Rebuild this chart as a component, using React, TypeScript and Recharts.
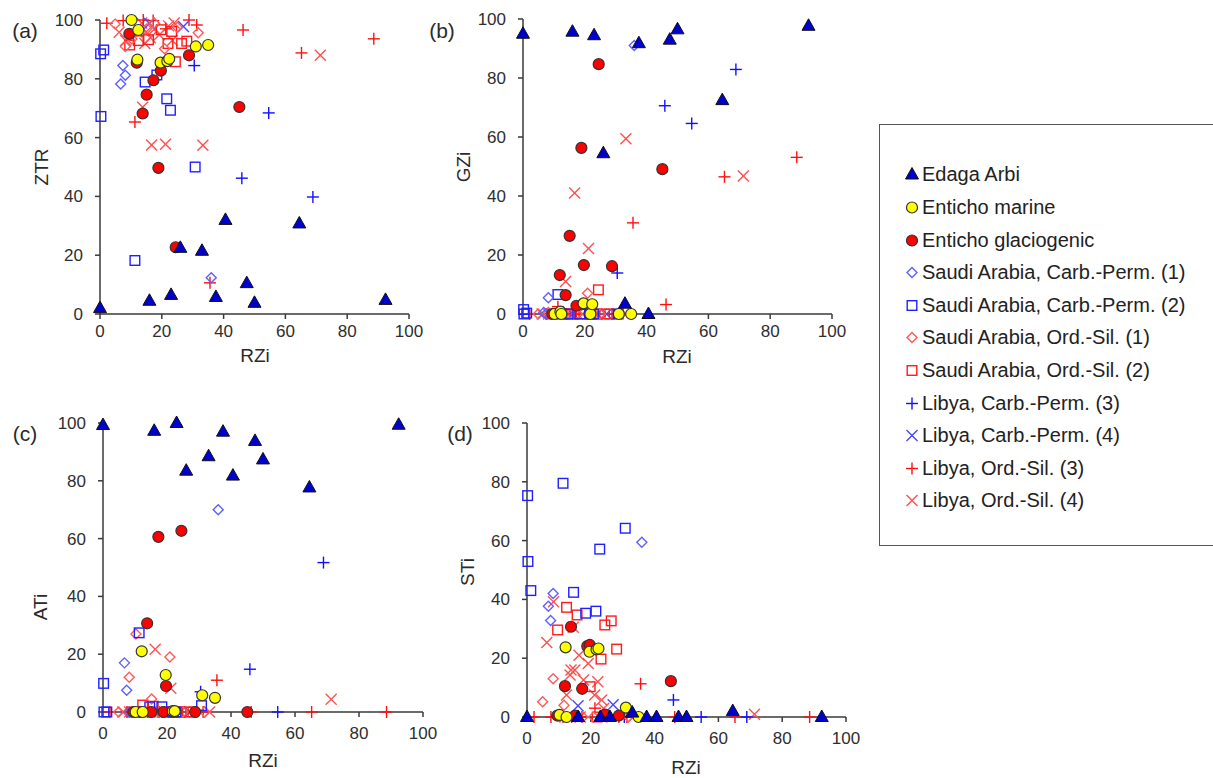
import React from 'react'
import { ScatterChart, Scatter, XAxis, YAxis } from 'recharts'

const axisTicks = [0, 20, 40, 60, 80, 100]

// Edaga Arbi
const edagaRZi = [0, 16, 23, 26, 33, 37.5, 40.6, 47.5, 50, 64.5, 92.4]
const edagaZTR = [2, 4.5, 6.5, 22.5, 21.5, 5.8, 32, 10.5, 3.8, 30.8, 4.8]
const edagaGZi = [95, 95.7, 94.5, 54.5, 3.5, 91.8, 0, 93, 96.5, 72.5, 97.7]
const edagaATi = [99.3, 97.3, 100, 83.5, 88.5, 97, 81.8, 93.8, 87.4, 77.7, 99.4]
const edagaSTi = [0, 0, 0, 0, 1.5, 0, 0, 0, 0, 2, 0]

// Enticho marine
const marineRZi = [10.2, 12.1, 12.4, 19.6, 21.8, 22.4, 31, 35]
const marineZTR = [100, 86.5, 96.6, 85.5, 86, 86.8, 91, 91.5]
const marineGZi = [0, 0.8, 0, 3.6, 0, 3.3, 0, 0]
const marineATi = [0, 21, 0, 12.8, 0.3, 0.3, 5.8, 4.9]
const marineSTi = [0.7, 23.7, 0, 22.2, 23, 23.3, 3.2, 0]

// Enticho glaciogenic
const glacRZi = [9.5, 11.9, 13.8, 15.1, 17.3, 18.9, 19.7, 24.5, 28.8, 45.1]
const glacZTR = [95.3, 85.5, 68.2, 74.6, 79.5, 49.7, 82.8, 22.7, 88, 70.4]
const glacGZi = [0, 13.2, 6.4, 26.5, 2.8, 56.3, 16.6, 84.7, 16.2, 49.1]
const glacATi = [0, 0, 30.7, 0, 60.6, 0, 9, 62.7, 0, 0]
const glacSTi = [0.5, 10.5, 30.7, 0.5, 9.6, 24.1, 24.5, 0.8, 0.5, 12.2]

// Saudi Arabia, Carb.-Perm. (1)
const saCp1RZi = [6.7, 7.4, 8.2, 36]
const saCp1ZTR = [78.2, 84.5, 81.2, 12.3]
const saCp1GZi = [0.5, 0, 5.5, 91]
const saCp1ATi = [17, 7.5, 0, 70]
const saCp1STi = [37.7, 32.8, 42, 59.4]

// Saudi Arabia, Carb.-Perm. (2)
const saCp2RZi = [0.2, 0.3, 1.2, 11.3, 14.6, 18.4, 21.6, 22.8, 30.8]
const saCp2ZTR = [88.5, 67.2, 89.8, 18.2, 78.9, 81.3, 73.2, 69.3, 50]
const saCp2GZi = [1.5, 0, 0.3, 6.6, 0, 0, 0, 0, 0]
const saCp2ATi = [9.9, 0, 0, 27.4, 1.8, 1.8, 0, 0, 2.2]
const saCp2STi = [75.3, 52.9, 43, 79.5, 42.4, 35.3, 36, 57.1, 64.2]

// Saudi Arabia, Ord.-Sil. (1)
const saOs1RZi = [4.9, 8.2, 10.3, 11.6, 15.2, 17.5, 20.9, 25, 31.8]
const saOs1ZTR = [98.6, 91, 93.5, 96, 97, 99, 90.2, 97.5, 95.7]
const saOs1GZi = [0, 0.5, 0, 0, 0, 0, 7, 0, 0]
const saOs1ATi = [0, 12, 27, 0, 4.5, 0, 19, 0, 0]
const saOs1STi = [5.2, 13, 0, 4, 0, 0, 0, 0, 0]

// Saudi Arabia, Ord.-Sil. (2)
const saOs2RZi = [9.6, 12.4, 15.7, 19.8, 22, 23.2, 24.4, 26.4, 28.1]
const saOs2ZTR = [91.5, 93, 93.3, 96.7, 92, 96.1, 85.8, 92, 92.8]
const saOs2GZi = [0, 0, 0, 0, 0, 0, 8.2, 0, 0]
const saOs2ATi = [0, 2.4, 2, 0, 0, 0, 0, 0, 0]
const saOs2STi = [29.6, 37.3, 34.7, 10.3, 0, 19.7, 31.3, 32.7, 23.1]

// Libya, Carb.-Perm. (3)
const lyCp3RZi = [30.5, 45.9, 54.6, 68.9]
const lyCp3ZTR = [84.5, 46.2, 68.4, 39.8]
const lyCp3GZi = [13.9, 70.6, 64.6, 82.9]
const lyCp3ATi = [7, 14.8, 0, 51.7]
const lyCp3STi = [0, 5.8, 0, 0]

// Libya, Carb.-Perm. (4)
const lyCp4RZi = [16, 27]
const lyCp4ZTR = [98.8, 97.8]
const lyCp4GZi = [0, 0]
const lyCp4ATi = [0, 0]
const lyCp4STi = [3.8, 4.2]

// Libya, Ord.-Sil. (3)
const lyOs3RZi = [2.2, 7.5, 11.3, 14, 17.2, 21.3, 28.8, 31.3, 35.6, 46.3, 65.2, 88.6]
const lyOs3ZTR = [98.9, 99.8, 65.3, 100, 99.8, 97, 100, 98.3, 10.6, 96.6, 88.8, 93.6]
const lyOs3GZi = [0, 0, 2.5, 0, 0, 0, 0, 0, 30.9, 3.2, 46.5, 53.1]
const lyOs3ATi = [0, 0, 0, 0, 0, 0, 0, 0, 11, 0, 0, 0]
const lyOs3STi = [0, 0, 0, 0, 0, 3, 0, 0, 11.3, 0, 0, 0]

// Libya, Ord.-Sil. (4)
const lyOs4RZi = [6.2, 8.3, 12.4, 13.5, 13.8, 14.5, 15, 16.3, 16.7, 17.7, 19.2, 21.2, 22.2, 23.4, 24, 33.3, 71.3]
const lyOs4ZTR = [95.8, 93, 97, 99, 70.3, 92, 96, 94, 57.5, 97, 95, 57.7, 98, 93, 99, 57.4, 88]
const lyOs4GZi = [0, 0, 0, 0, 11, 0, 0, 0, 41, 0, 0, 22.2, 0, 0, 0, 59.4, 46.8]
const lyOs4ATi = [0, 0, 0, 0, 0, 0, 0, 21.7, 0, 0, 0, 8.2, 0, 0, 0, 0, 4.4]
const lyOs4STi = [25.3, 39.2, 7.5, 14.3, 16, 30.5, 16, 21, 0, 12.6, 18.2, 7.5, 12, 5.8, 2.9, 0.1, 0.9]

type Kind = 'triangle' | 'circle' | 'diamond' | 'square' | 'plus' | 'cross'
type YKey = 'ztr' | 'gzi' | 'ati' | 'sti'

interface SeriesDef {
  name: string
  kind: Kind
  fill: string
  stroke: string
  rzi: number[]
  ztr: number[]
  gzi: number[]
  ati: number[]
  sti: number[]
}

const series: SeriesDef[] = [
  { name: 'Edaga Arbi', kind: 'triangle', fill: '#0000cc', stroke: '#111', rzi: edagaRZi, ztr: edagaZTR, gzi: edagaGZi, ati: edagaATi, sti: edagaSTi },
  { name: 'Enticho marine', kind: 'circle', fill: '#ffff00', stroke: '#333', rzi: marineRZi, ztr: marineZTR, gzi: marineGZi, ati: marineATi, sti: marineSTi },
  { name: 'Enticho glaciogenic', kind: 'circle', fill: '#ff0000', stroke: '#333', rzi: glacRZi, ztr: glacZTR, gzi: glacGZi, ati: glacATi, sti: glacSTi },
  { name: 'Saudi Arabia, Carb.-Perm. (1)', kind: 'diamond', fill: 'none', stroke: '#6060ff', rzi: saCp1RZi, ztr: saCp1ZTR, gzi: saCp1GZi, ati: saCp1ATi, sti: saCp1STi },
  { name: 'Saudi Arabia, Carb.-Perm. (2)', kind: 'square', fill: 'none', stroke: '#2020ff', rzi: saCp2RZi, ztr: saCp2ZTR, gzi: saCp2GZi, ati: saCp2ATi, sti: saCp2STi },
  { name: 'Saudi Arabia, Ord.-Sil. (1)', kind: 'diamond', fill: 'none', stroke: '#ff5a5a', rzi: saOs1RZi, ztr: saOs1ZTR, gzi: saOs1GZi, ati: saOs1ATi, sti: saOs1STi },
  { name: 'Saudi Arabia, Ord.-Sil. (2)', kind: 'square', fill: 'none', stroke: '#ff1a1a', rzi: saOs2RZi, ztr: saOs2ZTR, gzi: saOs2GZi, ati: saOs2ATi, sti: saOs2STi },
  { name: 'Libya, Carb.-Perm. (3)', kind: 'plus', fill: 'none', stroke: '#1010ff', rzi: lyCp3RZi, ztr: lyCp3ZTR, gzi: lyCp3GZi, ati: lyCp3ATi, sti: lyCp3STi },
  { name: 'Libya, Carb.-Perm. (4)', kind: 'cross', fill: 'none', stroke: '#4848ff', rzi: lyCp4RZi, ztr: lyCp4ZTR, gzi: lyCp4GZi, ati: lyCp4ATi, sti: lyCp4STi },
  { name: 'Libya, Ord.-Sil. (3)', kind: 'plus', fill: 'none', stroke: '#ff1010', rzi: lyOs3RZi, ztr: lyOs3ZTR, gzi: lyOs3GZi, ati: lyOs3ATi, sti: lyOs3STi },
  { name: 'Libya, Ord.-Sil. (4)', kind: 'cross', fill: 'none', stroke: '#ff5050', rzi: lyOs4RZi, ztr: lyOs4ZTR, gzi: lyOs4GZi, ati: lyOs4ATi, sti: lyOs4STi },
]

// later entries in the legend sit underneath, Edaga Arbi on top
const drawOrder = [...series].reverse()

const FONT = '"Liberation Sans", Arial, sans-serif'
const AXIS = '#3a3a3a'

function Marker({ kind, cx, cy, fill, stroke }: { kind: Kind; cx: number; cy: number; fill: string; stroke: string }) {
  if (cx == null || cy == null) return null
  switch (kind) {
    case 'triangle':
      return <polygon points={`${cx},${cy - 7} ${cx + 6.5},${cy + 4.5} ${cx - 6.5},${cy + 4.5}`} fill={fill} stroke={stroke} strokeWidth={1} />
    case 'circle':
      return <circle cx={cx} cy={cy} r={5.5} fill={fill} stroke={stroke} strokeWidth={1.2} />
    case 'diamond':
      return <polygon points={`${cx},${cy - 5} ${cx + 5},${cy} ${cx},${cy + 5} ${cx - 5},${cy}`} fill={fill} stroke={stroke} strokeWidth={1.4} />
    case 'square':
      return <rect x={cx - 4.8} y={cy - 4.8} width={9.6} height={9.6} fill={fill} stroke={stroke} strokeWidth={1.4} />
    case 'plus':
      return (
        <g stroke={stroke} strokeWidth={1.4}>
          <line x1={cx - 6} y1={cy} x2={cx + 6} y2={cy} />
          <line x1={cx} y1={cy - 6} x2={cx} y2={cy + 6} />
        </g>
      )
    case 'cross':
      return (
        <g stroke={stroke} strokeWidth={1.4}>
          <line x1={cx - 5.5} y1={cy - 5.5} x2={cx + 5.5} y2={cy + 5.5} />
          <line x1={cx - 5.5} y1={cy + 5.5} x2={cx + 5.5} y2={cy - 5.5} />
        </g>
      )
  }
  return null
}

function pointsFor(s: SeriesDef, key: YKey) {
  return s.rzi.map((x, i) => ({ x, y: s[key][i] }))
}

function Text({ x, y, size, rotate, children }: { x: number; y: number; size: number; rotate?: boolean; children: React.ReactNode }) {
  return (
    <div
      style={{
        position: 'absolute', left: x, top: y, fontSize: size, color: '#2a2a2a', whiteSpace: 'nowrap', lineHeight: 1,
        transform: `translate(-50%, -50%)${rotate ? ' rotate(-90deg)' : ''}`,
      }}
    >
      {children}
    </div>
  )
}

interface PanelProps {
  left: number
  top: number
  w: number
  h: number
  yKey: YKey
  xGap: number
}

function Panel({ left, top, w, h, yKey, xGap }: PanelProps) {
  const tickStyle = { fontSize: 17, fill: '#2e2e2e', fontFamily: FONT }
  return (
    <div style={{ position: 'absolute', left: left - 100, top: top - 20 }}>
      <ScatterChart width={100 + w + 20} height={20 + h + 40} margin={{ top: 20, right: 20, bottom: 0, left: 0 }}>
        <XAxis
          type="number" dataKey="x" domain={[0, 100]} ticks={axisTicks} interval={0} height={40}
          tick={tickStyle} tickSize={5} tickMargin={xGap}
          axisLine={{ stroke: AXIS, strokeWidth: 1.5 }} tickLine={{ stroke: AXIS, strokeWidth: 1.5 }}
        />
        <YAxis
          type="number" dataKey="y" domain={[0, 100]} ticks={axisTicks} interval={0} width={100}
          tick={tickStyle} tickSize={5} tickMargin={12}
          axisLine={{ stroke: AXIS, strokeWidth: 1.5 }} tickLine={{ stroke: AXIS, strokeWidth: 1.5 }}
        />
        {drawOrder.map((s) => (
          <Scatter
            key={s.name}
            name={s.name}
            data={pointsFor(s, yKey)}
            isAnimationActive={false}
            shape={(p: any) => <Marker kind={s.kind} cx={p.cx} cy={p.cy} fill={s.fill} stroke={s.stroke} />}
          />
        ))}
      </ScatterChart>
    </div>
  )
}

function Legend() {
  return (
    <div
      style={{
        position: 'absolute', left: 879, top: 124, width: 360, height: 422,
        border: '1.5px solid #555', boxSizing: 'border-box', background: '#fff',
      }}
    >
      {series.map((s, i) => (
        <div key={s.name} style={{ position: 'absolute', left: 24, top: 49.3 + i * 32.6 - 10, height: 20, display: 'flex', alignItems: 'center' }}>
          <svg width={16} height={16} style={{ marginRight: 2 }}>
            <Marker kind={s.kind} cx={8} cy={8.5} fill={s.fill} stroke={s.stroke} />
          </svg>
          <span style={{ fontSize: 20, color: '#222', lineHeight: '20px' }}>{s.name}</span>
        </div>
      ))}
    </div>
  )
}

export default function App() {
  return (
    <div style={{ position: 'absolute', left: 0, top: 0, width: 1213, height: 778, overflow: 'hidden', background: '#fff', fontFamily: FONT }}>
      <Panel left={100} top={20} w={309} h={294} yKey="ztr" xGap={6} />
      <Panel left={523} top={19} w={309} h={295} yKey="gzi" xGap={6} />
      <Panel left={103} top={423} w={320} h={289} yKey="ati" xGap={10} />
      <Panel left={527} top={423} w={319} h={294} yKey="sti" xGap={10} />

      <Text x={25} y={30} size={21}>(a)</Text>
      <Text x={442} y={30} size={21}>(b)</Text>
      <Text x={25} y={433} size={21}>(c)</Text>
      <Text x={460} y={433} size={21}>(d)</Text>

      <Text x={41} y={167} size={19} rotate>ZTR</Text>
      <Text x={463} y={167} size={19} rotate>GZi</Text>
      <Text x={40} y={607} size={19} rotate>ATi</Text>
      <Text x={467} y={572} size={19} rotate>STi</Text>

      <Text x={255} y={355} size={19}>RZi</Text>
      <Text x={677} y={356} size={19}>RZi</Text>
      <Text x={263} y={760} size={19}>RZi</Text>
      <Text x={686} y={767} size={19}>RZi</Text>

      <Legend />
    </div>
  )
}
